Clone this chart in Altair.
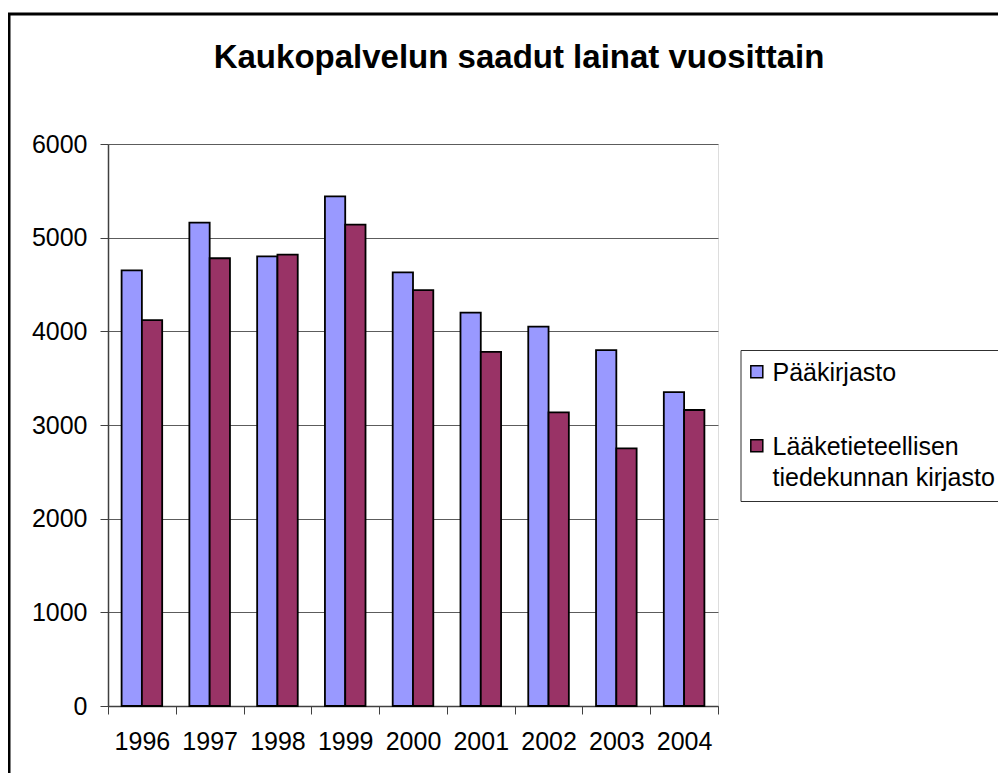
import altair as alt
import pandas as pd

# ---- data ----
years = ["1996", "1997", "1998", "1999", "2000", "2001", "2002", "2003", "2004"]
paakirjasto = [4650, 5160, 4800, 5440, 4630, 4200, 4050, 3800, 3350]
laaketieteellinen = [4120, 4780, 4820, 5140, 4440, 3780, 3135, 2750, 3160]
series = ["Pääkirjasto", "Lääketieteellisen tiedekunnan kirjasto"]
colors = ["#9999FF", "#993366"]
y_ticks = [0, 1000, 2000, 3000, 4000, 5000, 6000]
title_text = "Kaukopalvelun saadut lainat vuosittain"

rows = []
for i, yr in enumerate(years):
    rows.append({"vuosi": yr, "sarja": series[0], "lainat": paakirjasto[i]})
    rows.append({"vuosi": yr, "sarja": series[1], "lainat": laaketieteellinen[i]})
df = pd.DataFrame(rows)

FONT = "Liberation Sans"
W, H = 610, 562

label_expr = (
    "indexof(datum.label, ' ') > 0 ? "
    "[slice(datum.label, 0, indexof(datum.label, ' ')), "
    "slice(datum.label, indexof(datum.label, ' ') + 1)] : datum.label"
)

bars = alt.Chart(df).mark_bar(stroke="black", strokeWidth=1.8).encode(
    x=alt.X(
        "vuosi:N", sort=years, title=None,
        scale=alt.Scale(paddingInner=0, paddingOuter=0),
        axis=alt.Axis(
            labelAngle=0, tickBand="extent", tickSize=8, labelPadding=15,
            labelFontSize=25, labelFont=FONT, labelColor="black",
            domainColor="#404040", tickColor="#404040", domainWidth=1.5,
            grid=False,
        ),
    ),
    xOffset=alt.XOffset(
        "sarja:N", sort=series,
        scale=alt.Scale(paddingOuter=0.67, paddingInner=0),
    ),
    y=alt.Y(
        "lainat:Q", title=None,
        scale=alt.Scale(domain=[0, 6000], nice=False),
        axis=alt.Axis(
            values=y_ticks, format="d", tickSize=8, labelPadding=13,
            labelFontSize=25, labelFont=FONT, labelColor="black",
            domainColor="#404040", tickColor="#404040", domainWidth=1.5,
            grid=True, gridColor="#5c5c5c", gridWidth=1,
        ),
    ),
    color=alt.Color(
        "sarja:N", sort=series,
        scale=alt.Scale(domain=series, range=colors),
        legend=alt.Legend(
            title=None, orient="none", legendX=632.5, legendY=206,
            strokeColor="#303030", padding=10, fillColor="white",
            symbolType="M-1.035,-0.765H-0.435V-0.165H-1.035Z", symbolSize=1600,
            symbolStrokeColor="black", symbolStrokeWidth=1.5,
            labelFontSize=25, labelFont=FONT, labelColor="black",
            labelLimit=500, labelOffset={"expr": "-20"}, labelBaseline="alphabetic",
            rowPadding=48, labelExpr=label_expr,
        ),
    ),
)

# outer chart frame (top and left edges visible in the window)
one = pd.DataFrame({"k": [0]})
frame_top = alt.Chart(one).mark_rule(color="black", strokeWidth=3).encode(
    x=alt.value(-101), x2=alt.value(W + 400), y=alt.value(-130)
)
frame_left = alt.Chart(one).mark_rule(color="black", strokeWidth=3).encode(
    x=alt.value(-99), y=alt.value(-131), y2=alt.value(H + 200)
)

chart = alt.layer(bars, frame_top, frame_left).properties(
    width=W, height=H,
    title=alt.TitleParams(
        title_text, font=FONT, fontSize=33, fontWeight="bold", color="black",
        anchor="middle", frame="group", dx=106, offset=-63,
    ),
    autosize=alt.AutoSizeParams(type="none"),
    padding={"left": 100, "top": 136, "right": 280, "bottom": 67},
    background="white",
).configure_view(
    fill="#C0C0C0", stroke="#808080", strokeWidth=2
).configure(
    font=FONT,
    style={"guide-label": {"lineHeight": 31}},
)

chart.save("out.html", embed_options={"renderer": "svg", "actions": False})
